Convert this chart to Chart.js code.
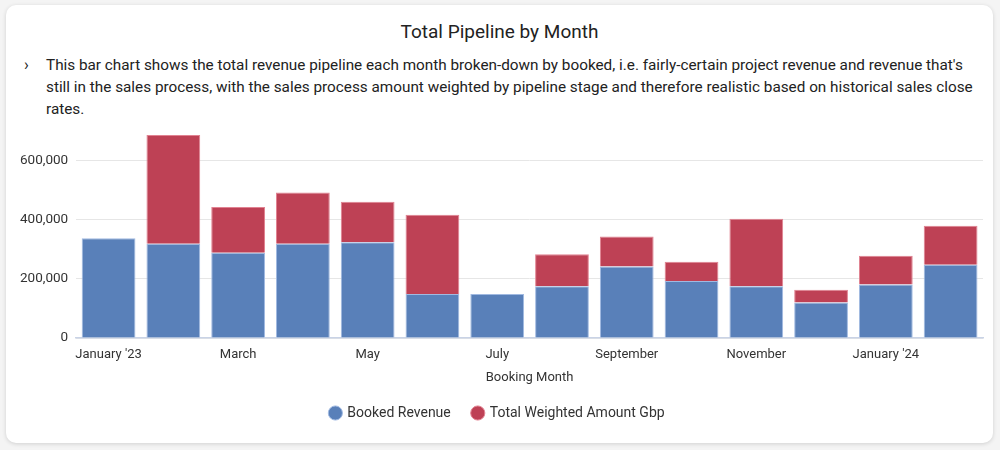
<!DOCTYPE html>
<html>
<head>
<meta charset="utf-8">
<script src="https://cdn.jsdelivr.net/npm/chart.js@4.4.0/dist/chart.umd.min.js"></script>
<style>
  html, body { margin: 0; padding: 0; background: #f4f4f4; font-family: Roboto, "Noto Sans", sans-serif; }
  .card {
    position: absolute; left: 6px; top: 5px; width: 987px; height: 438px;
    background: #fff; border-radius: 10px; box-shadow: 0 1px 4px rgba(0,0,0,0.15);
  }
  .title { position: absolute; top: 15px; width: 100%; text-align: center; font-size: 19px; color: #222; }
  .desc { position: absolute; left: 40px; top: 49px; width: 935px; font-size: 15.3px; line-height: 22px; color: #222; }
  .chev { position: absolute; left: 18px; top: 49px; font-size: 16px; line-height: 22px; color: #222; }
  .wrap { position: absolute; left: 0; top: 107px; width: 987px; height: 320px; }
</style>
</head>
<body>
<div class="card">
  <div class="title">Total Pipeline by Month</div>
  <div class="chev">&#8250;</div>
  <div class="desc">This bar chart shows the total revenue pipeline each month broken-down by booked, i.e. fairly-certain project revenue and revenue that's still in the sales process, with the sales process amount weighted by pipeline stage and therefore realistic based on historical sales close rates.</div>
  <div class="wrap"><canvas id="chart"></canvas></div>
</div>
<script>
// Mois (axe X)
const months = ["January '23", "February", "March", "April", "May", "June", "July",
  "August", "September", "October", "November", "December", "January '24", "February"];

// Montants
const booked = [337000, 319000, 288000, 319000, 324000, 149000, 149000,
  175000, 242000, 193000, 175000, 120000, 181000, 248000];
const weighted = [0, 368000, 155000, 173000, 137000, 268000, 0,
  108000, 101000, 65000, 228000, 43000, 97000, 132000];

// Graduations de l'axe Y
const yTicks = [0, 200000, 400000, 600000];

const blue = 'rgb(89, 128, 185)';
const red = 'rgb(190, 65, 85)';
const textColor = '#333';

new Chart(document.getElementById('chart'), {
  type: 'bar',
  data: {
    labels: months,
    datasets: [
      {
        label: 'Booked Revenue',
        data: booked,
        backgroundColor: blue,
        borderColor: 'rgba(160, 185, 225, 1)',
        borderWidth: 1,
        barPercentage: 0.83,
        categoryPercentage: 1
      },
      {
        label: 'Total Weighted Amount Gbp',
        data: weighted,
        backgroundColor: red,
        borderColor: 'rgba(225, 130, 145, 1)',
        borderWidth: 1,
        barPercentage: 0.83,
        categoryPercentage: 1
      }
    ]
  },
  options: {
    responsive: true,
    maintainAspectRatio: false,
    animation: false,
    layout: { padding: { left: 6, right: 10, top: 6, bottom: 2 } },
    plugins: {
      legend: {
        position: 'bottom',
        labels: {
          usePointStyle: true,
          pointStyle: 'circle',
          boxWidth: 10,
          boxHeight: 10,
          padding: 22,
          color: textColor,
          font: { family: 'Roboto', size: 14 }
        }
      },
      tooltip: { mode: 'index', intersect: false }
    },
    scales: {
      x: {
        stacked: true,
        grid: { display: false, drawTicks: false },
        border: { color: '#c9d3e6', width: 1.5 },
        ticks: {
          autoSkip: false,
          maxRotation: 0,
          padding: 10,
          color: textColor,
          font: { family: 'Roboto', size: 13, lineHeight: 1 },
          callback: function (val, i) { return i % 2 === 0 ? this.getLabelForValue(val) : ''; }
        },
        title: {
          display: true,
          text: 'Booking Month',
          color: textColor,
          font: { family: 'Roboto', size: 13, lineHeight: 1 },
          padding: { top: 0, bottom: 0 }
        }
      },
      y: {
        stacked: true,
        min: 0,
        max: 710000,
        afterBuildTicks: axis => { axis.ticks = yTicks.map(v => ({ value: v })); },
        grid: { color: '#e6e6e6', drawTicks: false },
        border: { display: false },
        ticks: {
          padding: 8,
          color: textColor,
          font: { family: 'Roboto', size: 13.5 },
          callback: v => v.toLocaleString('en-US')
        }
      }
    }
  }
});
</script>
</body>
</html>
